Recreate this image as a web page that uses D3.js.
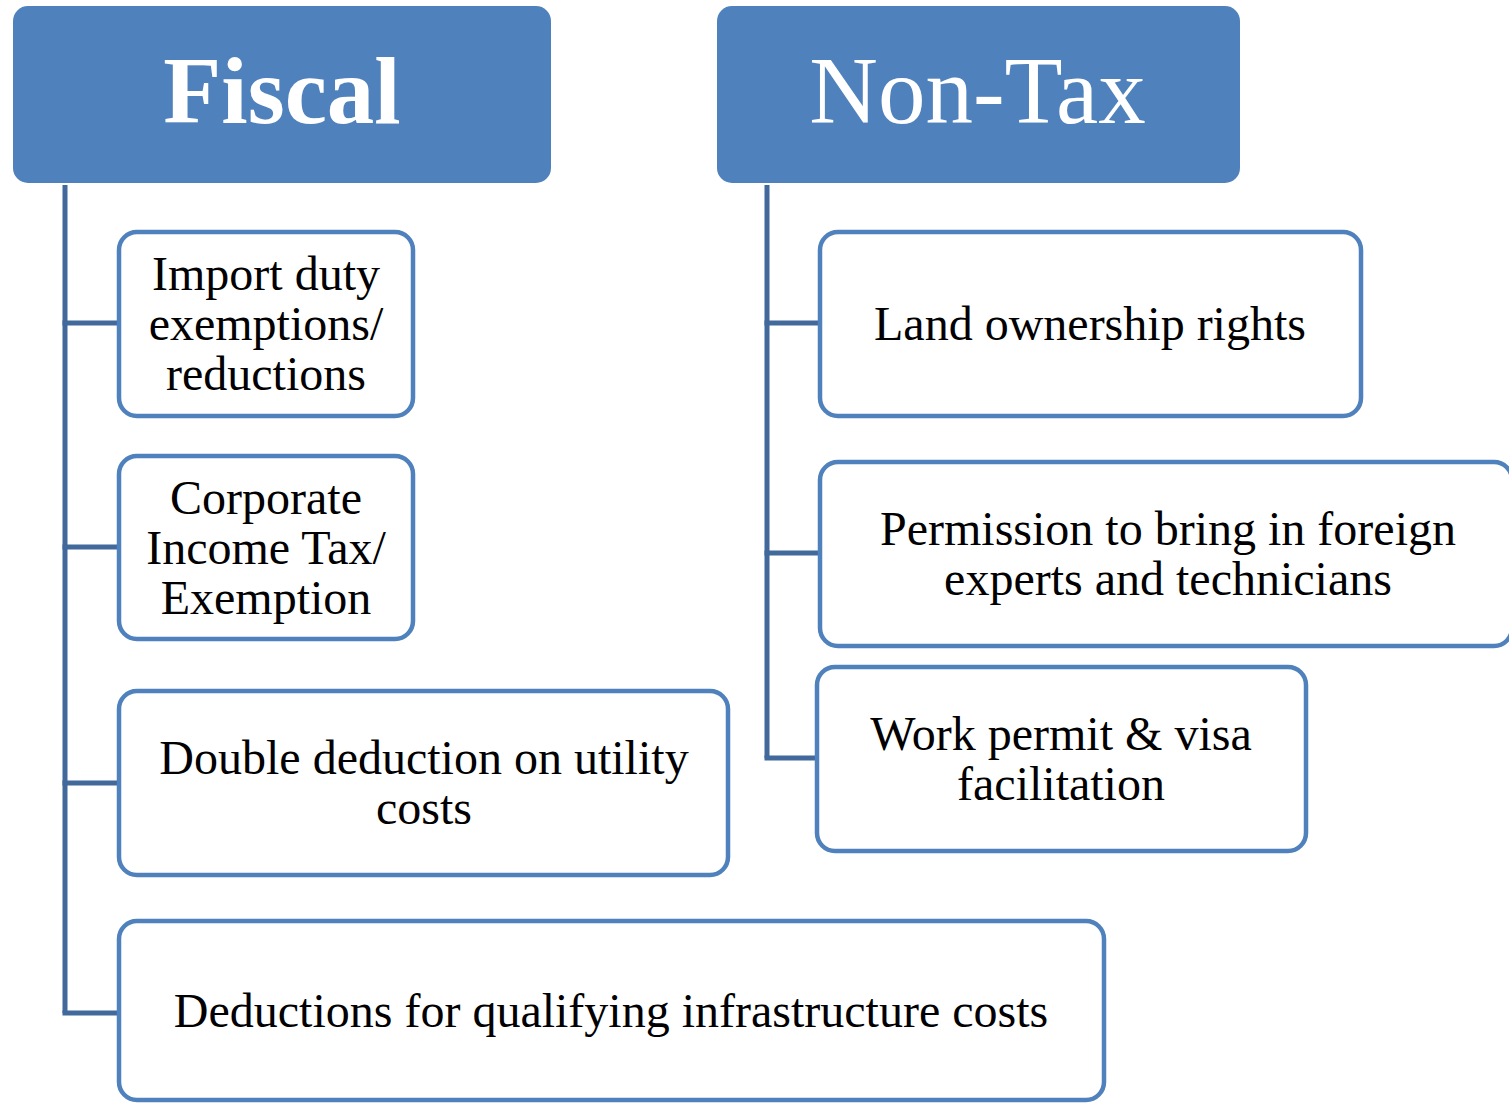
<!DOCTYPE html>
<html><head><meta charset="utf-8">
<script src="https://cdn.jsdelivr.net/npm/d3@7"></script>
<style>body{margin:0;background:#fff;overflow:hidden}svg{display:block}</style>
</head><body>
<script>
// ---- data ----
const groups = ["Fiscal", "Non-Tax"];
const groupBold = [true, false];
const fiscalItems = [
  ["Import duty", "exemptions/", "reductions"],
  ["Corporate", "Income Tax/", "Exemption"],
  ["Double deduction on utility", "costs"],
  ["Deductions for qualifying infrastructure costs"]
];
const nonTaxItems = [
  ["Land ownership rights"],
  ["Permission to bring in foreign", "experts and technicians"],
  ["Work permit & visa", "facilitation"]
];

// ---- layout (separate from data) ----
const W = 1509, H = 1103;
const headerBoxes = [{x:13,y:6,w:538,h:177},{x:717,y:6,w:523,h:177}];
const trunkX = [65, 767];
const fiscalBoxes = [
  {x:119,y:232,w:294,h:184},
  {x:119,y:456,w:294,h:183},
  {x:119,y:691,w:609,h:184},
  {x:119,y:921,w:985,h:179}
];
const fiscalLinks = [323, 547, 783, 1013];
const nonTaxBoxes = [
  {x:820,y:232,w:541,h:184},
  {x:820,y:462,w:692,h:184},
  {x:817,y:667,w:489,h:184}
];
const nonTaxLinks = [323, 553, 758];

const blue = "#4F81BD", lineBlue = "#41699B";
const svg = d3.select("body").append("svg").attr("width", W).attr("height", H);
const font = "'Liberation Serif','Times New Roman',serif";

// connectors
function drawTree(tx, links) {
  const g = svg.append("g");
  const last = links[links.length - 1];
  g.append("path")
    .attr("d", `M${tx},185 V${last}`)
    .attr("stroke", lineBlue).attr("stroke-width", 5).attr("fill", "none");
  g.selectAll("path.h").data(links).join("path").attr("class","h")
    .attr("d", y => `M${tx - 2.5},${y} H${tx + 54}`)
    .attr("stroke", lineBlue).attr("stroke-width", 5).attr("fill", "none");
}
drawTree(trunkX[0], fiscalLinks);
drawTree(trunkX[1], nonTaxLinks);

// headers
const hg = svg.selectAll("g.header").data(groups).join("g").attr("class", "header");
hg.append("rect")
  .attr("x", (d,i) => headerBoxes[i].x).attr("y", (d,i) => headerBoxes[i].y)
  .attr("width", (d,i) => headerBoxes[i].w).attr("height", (d,i) => headerBoxes[i].h)
  .attr("rx", 15).attr("fill", blue);
hg.append("text")
  .attr("x", (d,i) => headerBoxes[i].x + headerBoxes[i].w/2 - (i ? 1 : 0))
  .attr("y", 123)
  .attr("text-anchor", "middle")
  .attr("font-family", font).attr("font-size", 95)
  .attr("font-weight", (d,i) => groupBold[i] ? "bold" : "normal")
  .attr("fill", "#fff").text(d => d);

// item boxes
function drawItems(items, boxes, textCx) {
  const g = svg.append("g").selectAll("g").data(items).join("g");
  g.append("rect")
    .attr("x", (d,i) => boxes[i].x).attr("y", (d,i) => boxes[i].y)
    .attr("width", (d,i) => boxes[i].w).attr("height", (d,i) => boxes[i].h)
    .attr("rx", 18).attr("fill", "#fff").attr("stroke", blue).attr("stroke-width", 4.5);
  g.each(function(lines, i) {
    const b = boxes[i];
    const cx = textCx[i] != null ? textCx[i] : b.x + b.w/2;
    const lh = 50;
    const cy = b.y + b.h/2;
    const y0 = cy - (lines.length - 1) * lh / 2 + 16;
    d3.select(this).append("text")
      .attr("text-anchor", "middle")
      .attr("font-family", font).attr("font-size", 48).attr("fill", "#000")
      .selectAll("tspan").data(lines).join("tspan")
      .attr("x", cx).attr("y", (d,j) => y0 + j*lh).text(d => d);
  });
}
drawItems(fiscalItems, fiscalBoxes, [266, 266, 424, 611]);
drawItems(nonTaxItems, nonTaxBoxes, [1090, 1168, 1061]);
</script>
</body></html>
